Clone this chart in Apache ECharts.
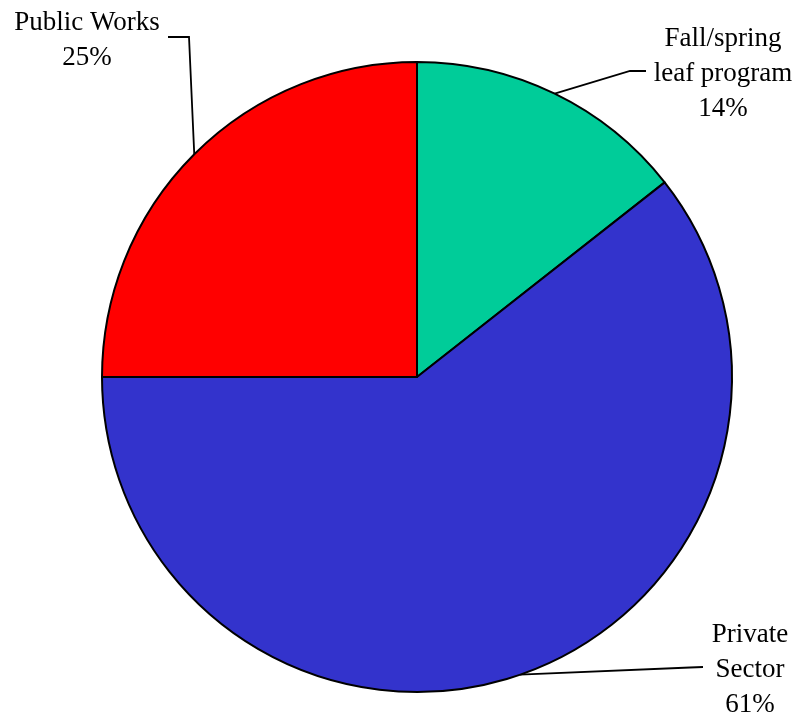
<!DOCTYPE html>
<html>
<head>
<meta charset="utf-8">
<script src="https://cdn.jsdelivr.net/npm/echarts@6/dist/echarts.min.js"></script>
<style>html,body{margin:0;padding:0;background:#fff;}#chart{width:799px;height:719px;}</style>
</head>
<body>
<div id="chart"></div>
<script>
var categories = ['Fall/spring\nleaf program', 'Private\nSector', 'Public Works'];
var values = [14.4, 60.6, 25.0];
var colors = ['#00CC99', '#3333CC', '#FF0000'];

// label placement (layout only)
var labelPlaces = [
  { x: 723, y: 74, bends: [[630, 71], [646, 71]] },
  { x: 750, y: 670, bends: [[690, 667.5], [703, 667]] },
  { x: 87, y: 40, bends: [[189, 37], [168, 37]] }
];

var chart = echarts.init(document.getElementById('chart'));
chart.setOption({
  backgroundColor: '#ffffff',
  animation: false,
  series: [{
    type: 'pie',
    center: [417, 377],
    radius: 315,
    startAngle: 90,
    clockwise: true,
    avoidLabelOverlap: false,
    data: categories.map(function (c, i) {
      return { name: c, value: values[i], itemStyle: { color: colors[i] } };
    }),
    itemStyle: { borderColor: '#000', borderWidth: 2 },
    label: {
      show: true,
      position: 'outside',
      overflow: 'none',
      fontFamily: 'Liberation Serif',
      fontSize: 27,
      lineHeight: 35,
      color: '#000',
      align: 'center',
      formatter: function (p) { return p.name + '\n' + Math.round(p.percent) + '%'; }
    },
    labelLine: { show: true, smooth: false, lineStyle: { color: '#000', width: 1.8 } },
    labelLayout: function (params) {
      var lp = labelPlaces[params.dataIndex];
      var pts = params.labelLinePoints;
      var start = pts ? pts[0] : lp.bends[0];
      return {
        x: lp.x,
        y: lp.y,
        align: 'center',
        verticalAlign: 'middle',
        labelLinePoints: [start, lp.bends[0], lp.bends[1]]
      };
    },
    emphasis: { disabled: true }
  }]
});
</script>
</body>
</html>
